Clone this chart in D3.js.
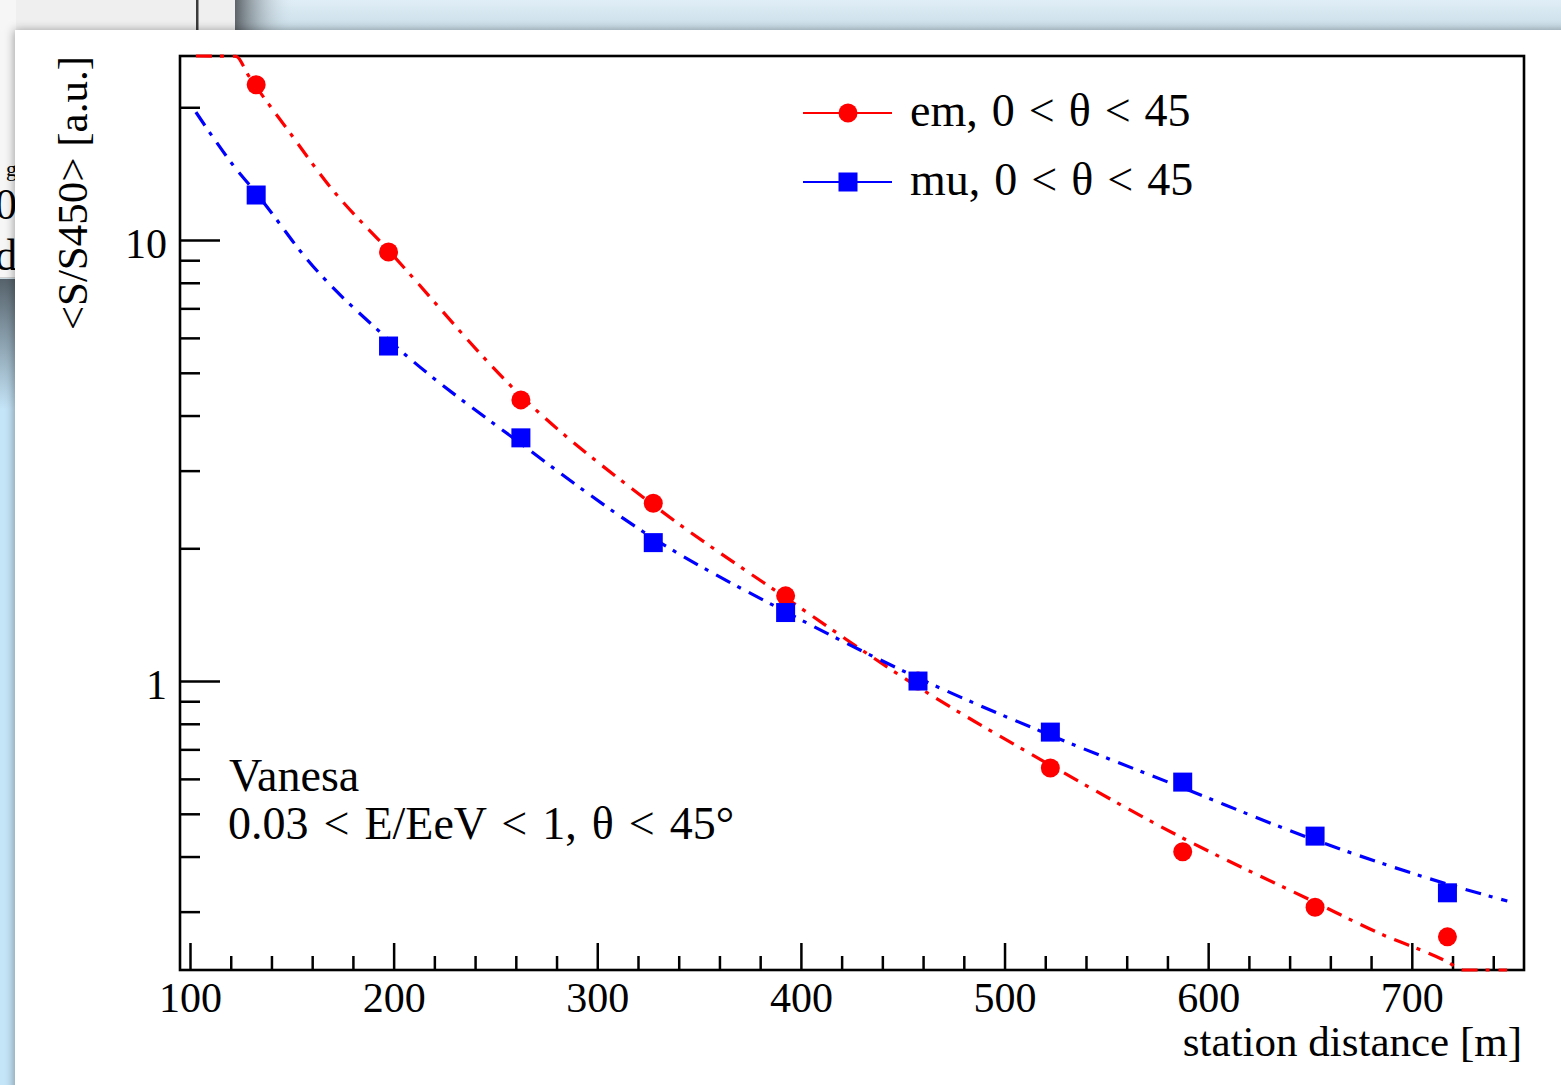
<!DOCTYPE html>
<html>
<head>
<meta charset="utf-8">
<script src="https://cdn.jsdelivr.net/npm/d3@7"></script>
<style>
  html, body { margin: 0; padding: 0; background: #c4e4f7; }
  svg { display: block; }
  text { font-family: "Liberation Serif", "Times New Roman", serif; fill: #000; }
</style>
</head>
<body>
<script>
// ---------------- data ----------------
const distance = [132.5, 197.5, 262.5, 327.5, 392.5, 457.5, 522.5, 587.5, 652.5, 717.5];
const emValues = [22.5, 9.39, 4.34, 2.53, 1.56, 1.0, 0.635, 0.41, 0.307, 0.263];
const muValues = [12.65, 5.75, 3.56, 2.06, 1.43, 1.0, 0.766, 0.59, 0.445, 0.331];

const emFitDistance = [102.9, 122.6, 128.5, 149.1, 168.8, 197.7, 262.6, 327.4, 392.7, 457.6, 522.4, 587.7, 652.5, 684.0, 717.4, 725.2, 746.8];
const emFitValues   = [35, 26.1, 23.7, 17.5, 13.2, 9.45, 4.43, 2.51, 1.543, 0.969, 0.645, 0.440, 0.315, 0.268, 0.231, 0.221, 0.19];

const muFitDistance = [102.9, 111.3, 121.1, 132.4, 142.7, 153.0, 197.7, 262.6, 327.4, 392.7, 457.6, 522.4, 587.7, 652.5, 717.4, 746.9];
const muFitValues   = [19.5, 17.1, 14.8, 12.8, 11.1, 9.59, 5.93, 3.45, 2.11, 1.434, 1.016, 0.754, 0.572, 0.436, 0.3465, 0.317];

const xMajorTicks = [100, 200, 300, 400, 500, 600, 700];
const xMinorTicks = [120, 140, 160, 180, 220, 240, 260, 280, 320, 340, 360, 380, 420, 440, 460, 480,
                     520, 540, 560, 580, 620, 640, 660, 680, 720, 740];
const yMajorTicks = [1, 10];
const yMinorTicks = [0.3, 0.4, 0.5, 0.6, 0.7, 0.8, 0.9, 2, 3, 4, 5, 6, 7, 8, 9, 20];

const legendLabels = ["em, 0 < θ < 45", "mu, 0 < θ < 45"];
const infoLines = ["Vanesa", "0.03 < E/EeV < 1, θ < 45°"];
const xTitle = "station distance [m]";
const yTitle = "<S/S450> [a.u.]";

// ---------------- layout ----------------
const W = 1561, H = 1085;
const frame = { left: 180, right: 1524, top: 56, bottom: 970 };
const RED = "#ff0000", BLUE = "#0000ff";
const FONT = 43;

const svg = d3.select("body").append("svg").attr("width", W).attr("height", H);
const defs = svg.append("defs");

// background "desktop" pieces
const gTop = defs.append("linearGradient").attr("id", "gTop").attr("x1", 0).attr("y1", 0).attr("x2", 0).attr("y2", 1);
gTop.append("stop").attr("offset", 0).attr("stop-color", "#e0eef7");
gTop.append("stop").attr("offset", 1).attr("stop-color", "#c9dde8");
const gTopShade = defs.append("linearGradient").attr("id", "gTopShade").attr("x1", 0).attr("y1", 0).attr("x2", 1).attr("y2", 0);
gTopShade.append("stop").attr("offset", 0).attr("stop-color", "#5d6469").attr("stop-opacity", 1);
gTopShade.append("stop").attr("offset", 1).attr("stop-color", "#d8e8f2").attr("stop-opacity", 0);
const gLeft = defs.append("linearGradient").attr("id", "gLeft").attr("x1", 0).attr("y1", 0).attr("x2", 0).attr("y2", 1);
gLeft.append("stop").attr("offset", 0).attr("stop-color", "#56626b");
gLeft.append("stop").attr("offset", 1).attr("stop-color", "#c4e4f7");
const shadow = defs.append("filter").attr("id", "shadow").attr("x", "-5%").attr("y", "-5%").attr("width", "110%").attr("height", "110%");
shadow.append("feDropShadow").attr("dx", -1).attr("dy", 0).attr("stdDeviation", 5)
  .attr("flood-color", "#000").attr("flood-opacity", 0.35);

svg.append("rect").attr("width", W).attr("height", H).attr("fill", "#c4e4f7");
svg.append("rect").attr("x", 0).attr("y", 0).attr("width", W).attr("height", 30).attr("fill", "url(#gTop)");
svg.append("rect").attr("x", 235).attr("y", 0).attr("width", 60).attr("height", 30).attr("fill", "url(#gTopShade)");
svg.append("rect").attr("x", 0).attr("y", 0).attr("width", 235).attr("height", 30).attr("fill", "#efefef");
svg.append("rect").attr("x", 196).attr("y", 0).attr("width", 2.5).attr("height", 30).attr("fill", "#3a3a3a");
svg.append("rect").attr("x", 0).attr("y", 0).attr("width", 16).attr("height", 277).attr("fill", "#f6f6f6");
svg.append("rect").attr("x", 0).attr("y", 277).attr("width", 16).attr("height", 1.5).attr("fill", "#cfcfcf");
svg.append("rect").attr("x", 0).attr("y", 279).attr("width", 16).attr("height", 130).attr("fill", "url(#gLeft)");
svg.append("text").attr("x", 17).attr("y", 219).attr("text-anchor", "end").attr("font-size", 44).text("0");
svg.append("text").attr("x", 17).attr("y", 270).attr("text-anchor", "end").attr("font-size", 44).text("d");
svg.append("text").attr("x", 17).attr("y", 176).attr("text-anchor", "end").attr("font-size", 22).text("g");

// main white window
svg.append("rect").attr("x", 15).attr("y", 30).attr("width", W - 15 + 20).attr("height", H - 30 + 20)
  .attr("fill", "#ffffff").attr("filter", "url(#shadow)");

// ---------------- scales ----------------
const x = d3.scaleLinear().domain([95.09, 755.1]).range([frame.left, frame.right]);
const y = d3.scaleLog().domain([0.2212, 26.14]).range([frame.bottom, frame.top]).clamp(true);

// ---------------- axes (ticks drawn inward) ----------------
const xMajor = svg.append("g").attr("transform", `translate(0,${frame.bottom})`)
  .call(d3.axisBottom(x).tickValues(xMajorTicks).tickSize(-27).tickPadding(0).tickFormat(d3.format("d")));
const xMinor = svg.append("g").attr("transform", `translate(0,${frame.bottom})`)
  .call(d3.axisBottom(x).tickValues(xMinorTicks).tickSize(-14).tickFormat(""));
const yMajor = svg.append("g").attr("transform", `translate(${frame.left},0)`)
  .call(d3.axisLeft(y).tickValues(yMajorTicks).tickSize(-40).tickPadding(13).tickFormat(d => String(d)));
const yMinor = svg.append("g").attr("transform", `translate(${frame.left},0)`)
  .call(d3.axisLeft(y).tickValues(yMinorTicks).tickSize(-20).tickFormat(""));

[xMajor, xMinor, yMajor, yMinor].forEach(g => {
  g.select(".domain").remove();
  g.selectAll(".tick line").attr("stroke", "#000").attr("stroke-width", 2.5);
  g.selectAll(".tick text").attr("font-family", null).attr("font-size", 42).attr("fill", "#000");
});
xMajor.selectAll(".tick text").attr("y", 42).attr("dy", 0);
yMajor.selectAll(".tick text").attr("dy", "0.41em");

// frame
svg.append("rect").attr("x", frame.left).attr("y", frame.top)
  .attr("width", frame.right - frame.left).attr("height", frame.bottom - frame.top)
  .attr("fill", "none").attr("stroke", "#000").attr("stroke-width", 2.6);

// ---------------- fits ----------------
const line = d3.line().x(d => x(d[0])).y(d => y(d[1])).curve(d3.curveMonotoneX);
const dash = "16,8,4,9";
svg.append("path").datum(d3.zip(emFitDistance, emFitValues)).attr("d", line)
  .attr("fill", "none").attr("stroke", RED).attr("stroke-width", 3.2).attr("stroke-dasharray", dash);

// em markers
svg.append("g").selectAll("circle").data(d3.zip(distance, emValues)).join("circle")
  .attr("cx", d => x(d[0])).attr("cy", d => y(d[1])).attr("r", 9.5).attr("fill", RED);

svg.append("path").datum(d3.zip(muFitDistance, muFitValues)).attr("d", line)
  .attr("fill", "none").attr("stroke", BLUE).attr("stroke-width", 3.2).attr("stroke-dasharray", dash);

// mu markers
const sq = 19;
svg.append("g").selectAll("rect").data(d3.zip(distance, muValues)).join("rect")
  .attr("x", d => x(d[0]) - sq / 2).attr("y", d => y(d[1]) - sq / 2)
  .attr("width", sq).attr("height", sq).attr("fill", BLUE);

// ---------------- legend ----------------
const legend = svg.append("g");
const legendRows = [
  { label: legendLabels[0], color: RED, shape: "circle", y: 113 },
  { label: legendLabels[1], color: BLUE, shape: "square", y: 182 }
];
legendRows.forEach(r => {
  legend.append("line").attr("x1", 803).attr("x2", 892).attr("y1", r.y).attr("y2", r.y)
    .attr("stroke", r.color).attr("stroke-width", 2.2);
  if (r.shape === "circle") {
    legend.append("circle").attr("cx", 848).attr("cy", r.y).attr("r", 9.5).attr("fill", r.color);
  } else {
    legend.append("rect").attr("x", 848 - sq / 2).attr("y", r.y - sq / 2).attr("width", sq).attr("height", sq).attr("fill", r.color);
  }
  legend.append("text").attr("x", 910).attr("y", r.y + 13).attr("font-size", 46)
    .style("white-space", "pre").style("word-spacing", "2.5px").text(r.label);
});

// info text
svg.append("text").attr("x", 229).attr("y", 791).attr("font-size", 46).text(infoLines[0]);
svg.append("text").attr("x", 228).attr("y", 839).attr("font-size", 46)
  .style("white-space", "pre").style("word-spacing", "3.5px").text(infoLines[1]);

// axis titles
svg.append("text").attr("x", frame.right - 2).attr("y", 1056).attr("text-anchor", "end")
  .attr("font-size", FONT).text(xTitle);
svg.append("text").attr("transform", `translate(87,${frame.top}) rotate(-90)`).attr("text-anchor", "end")
  .attr("font-size", FONT).text(yTitle);
</script>
</body>
</html>
